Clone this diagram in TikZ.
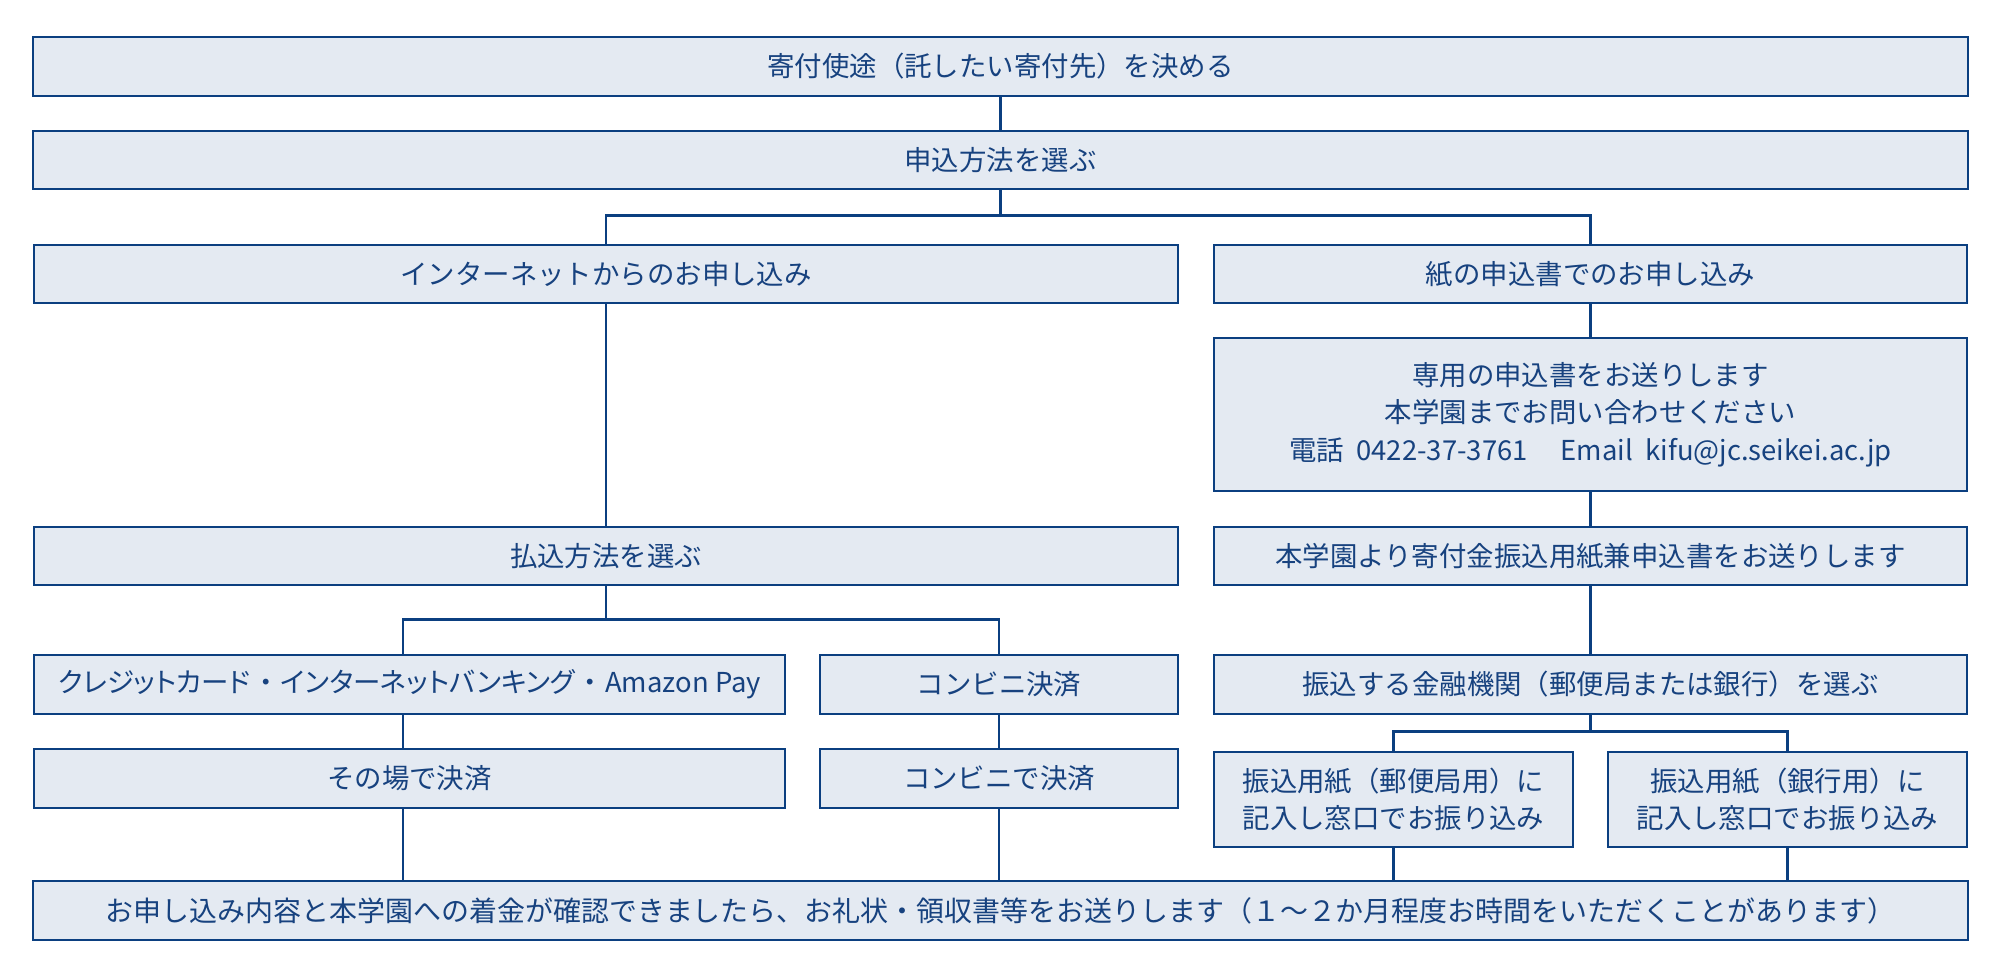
\documentclass[tikz,border=0pt]{standalone}
\usepackage{fontspec}
\setmainfont{Noto Sans CJK JP}
\definecolor{lineblue}{HTML}{0B3F80}
\definecolor{boxfill}{HTML}{E4EAF2}
\definecolor{textblue}{HTML}{17427F}
\newcommand{\nakaguro}{\hspace{0.3em}・\hspace{0.3em}}
\tikzset{
  flowbox/.style={draw=lineblue, line width=0.6pt, fill=boxfill, text=textblue,
    inner sep=0pt, outer sep=0pt, align=center,
    font=\fontsize{7.8}{10.6}\selectfont},
  link/.style={draw=lineblue, line width=0.7pt},
}
\begin{document}
\begin{tikzpicture}[x=0.01cm, y=-0.01cm]
    % Donation flow
    \useasboundingbox (0,0) rectangle (2000,976);
    \node[flowbox, minimum width=19.33cm, minimum height=0.59cm] (use) at (1000.5,66.5) {寄付使途（託したい寄付先）を決める};
    \node[flowbox, minimum width=19.33cm, minimum height=0.58cm] (method) at (1000.5,160) {申込方法を選ぶ};
    \node[flowbox, minimum width=11.44cm, minimum height=0.58cm] (net) at (606,274) {インターネットからのお申し込み};
    \node[flowbox, minimum width=7.53cm, minimum height=0.58cm] (paper) at (1590.5,274) {紙の申込書でのお申し込み};
    \node[flowbox, minimum width=7.53cm, minimum height=1.53cm] (contact) at (1590.5,414.5) {専用の申込書をお送りします\\本学園までお問い合わせください\\電話\hspace{0.45em}0422-37-3761\hspace{1.2em}Email\hspace{0.45em}kifu@jc.seikei.ac.jp};
    \node[flowbox, minimum width=11.44cm, minimum height=0.58cm] (pay) at (606,556) {払込方法を選ぶ};
    \node[flowbox, minimum width=7.53cm, minimum height=0.58cm] (form) at (1590.5,556) {本学園より寄付金振込用紙兼申込書をお送りします};
    \node[flowbox, minimum width=7.51cm, minimum height=0.59cm] (card) at (409.5,684.5) {\addfontfeatures{RawFeature=+palt}クレジットカード\nakaguro インターネットバンキング\nakaguro Amazon Pay};
    \node[flowbox, minimum width=3.58cm, minimum height=0.59cm] (conv) at (999,684.5) {コンビニ決済};
    \node[flowbox, minimum width=7.53cm, minimum height=0.59cm] (bank) at (1590.5,684.5) {振込する金融機関（郵便局または銀行）を選ぶ};
    \node[flowbox, minimum width=7.51cm, minimum height=0.59cm] (spot) at (409.5,778.5) {その場で決済};
    \node[flowbox, minimum width=3.58cm, minimum height=0.59cm] (convpay) at (999,778.5) {コンビニで決済};
    \node[flowbox, minimum width=3.59cm, minimum height=0.95cm] (post) at (1393.5,799.5) {振込用紙（郵便局用）に\\記入し窓口でお振り込み};
    \node[flowbox, minimum width=3.59cm, minimum height=0.95cm] (ginko) at (1787.5,799.5) {振込用紙（銀行用）に\\記入し窓口でお振り込み};
    \node[flowbox, minimum width=19.33cm, minimum height=0.59cm, font=\fontsize{7.95}{10.6}\selectfont] (done) at (1000.5,910.5) {お申し込み内容と本学園への着金が確認できましたら、お礼状・領収書等をお送りします（１～２か月程度お時間をいただくことがあります）};
    % junctions
    \coordinate (split1) at (1000.5,215.7);
    \coordinate (split2) at (606,619.3);
    \coordinate (split3) at (1590.5,731.7);
    \draw[link] (use) -- (method);
    \draw[link] (method) -- (split1);
    \draw[link] (net.north) |- (split1) -| (paper.north);
    \draw[link] (paper) -- (contact);
    \draw[link] (contact) -- (form);
    \draw[link] (net) -- (pay);
    \draw[link] (pay) -- (split2);
    \draw[link] ([xshift=-0.065cm]card.north) |- (split2) -| (conv.north);
    \draw[link] ([xshift=-0.065cm]card.south) -- ([xshift=-0.065cm]spot.north);
    \draw[link] (conv) -- (convpay);
    \draw[link] (form) -- (bank);
    \draw[link] (bank) -- (split3);
    \draw[link] (post.north) |- (split3) -| (ginko.north);
    \draw[link] ([xshift=-0.065cm]spot.south) -- ([xshift=-0.065cm]spot.south |- done.north);
    \draw[link] (convpay.south) -- (convpay.south |- done.north);
    \draw[link] (post.south) -- (post.south |- done.north);
    \draw[link] (ginko.south) -- (ginko.south |- done.north);
\end{tikzpicture}
\end{document}
